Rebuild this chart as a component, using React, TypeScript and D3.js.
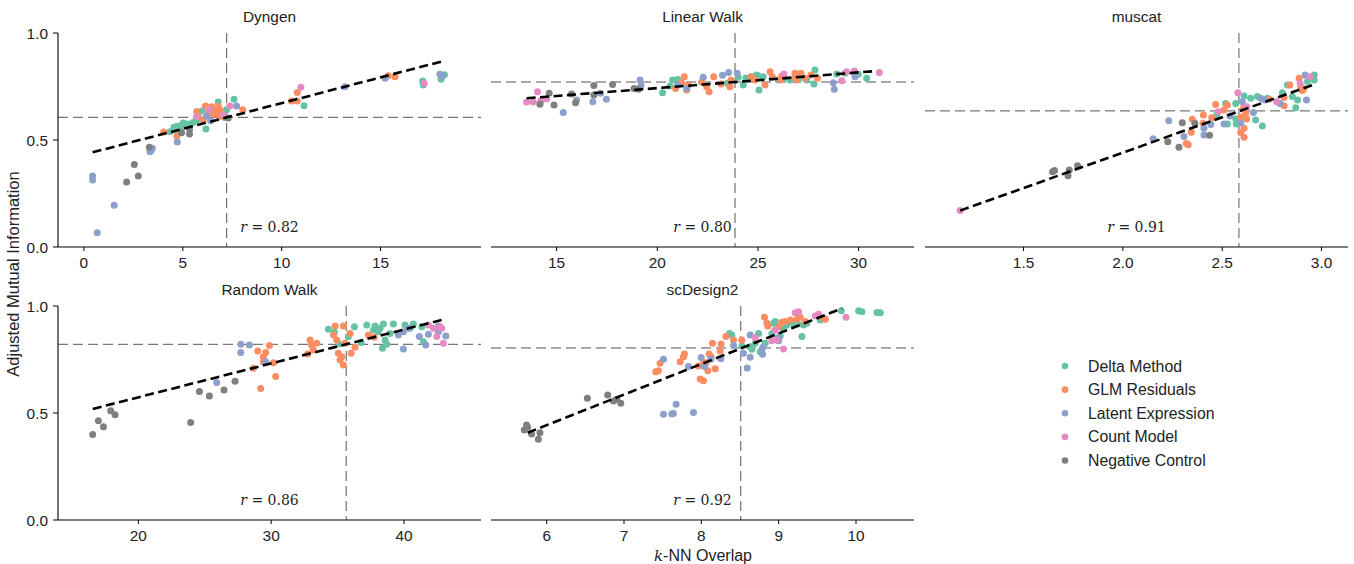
import React from "react";
import * as d3 from "d3";

const methods = ["Delta Method", "GLM Residuals", "Latent Expression", "Count Model", "Negative Control"];
const methodColors = ["#66c2a5", "#fc8d62", "#8da0cb", "#e78ac3", "#7f7f7f"];
const datasetNames = ["Dyngen", "Linear Walk", "muscat", "Random Walk", "scDesign2"];
const xDomains: [number, number][] = [[-1.31, 20.08], [11.74, 32.75], [1.004, 3.133], [13.95, 45.8], [5.28, 10.75]];
const xTicks = [[0, 5, 10, 15], [15, 20, 25, 30], [1.5, 2.0, 2.5, 3.0], [20, 30, 40], [6, 7, 8, 9, 10]];
const xTickDecimals = [0, 0, 1, 0, 0];
const yTicks = [0, 0.5, 1.0];
const medianX = [7.22, 23.86, 2.584, 35.65, 8.51];
const medianY = [0.606, 0.771, 0.636, 0.821, 0.804];
// fit line: [x0, y0, x1, y1]
const fitLines = [
  [0.44, 0.4425, 18.22, 0.87],
  [13.51, 0.695, 30.84, 0.822],
  [1.181, 0.17, 2.955, 0.757],
  [16.57, 0.519, 43.03, 0.938],
  [5.754, 0.408, 9.82, 0.989],
];
const rValues = ["0.82", "0.80", "0.91", "0.86", "0.92"];

// [x, y, method index]
const dyngenPoints = [
  [4.35, 0.539, 0], [4.55, 0.559, 0], [4.68, 0.563, 0], [4.85, 0.565, 0], [5.02, 0.579, 0], [5.19, 0.575, 0],
  [5.36, 0.575, 0], [5.53, 0.582, 0], [5.7, 0.594, 0], [6.17, 0.551, 0], [6.79, 0.678, 0], [7.59, 0.69, 0],
  [7.13, 0.605, 0], [7.22, 0.641, 0], [11.13, 0.66, 0], [17.13, 0.776, 0], [17.16, 0.757, 0], [18.06, 0.784, 0],
  [18.23, 0.805, 0], [5.95, 0.636, 0], [4.9, 0.556, 0], [5.1, 0.57, 0], [4.6, 0.548, 0],
  [4.03, 0.537, 1], [4.7, 0.519, 1], [5.7, 0.633, 1], [5.78, 0.61, 1], [6.15, 0.659, 1], [6.45, 0.655, 1],
  [6.62, 0.636, 1], [6.79, 0.659, 1], [6.71, 0.625, 1], [6.87, 0.61, 1], [8.03, 0.641, 1], [10.5, 0.682, 1],
  [10.79, 0.682, 1], [10.79, 0.722, 1], [15.39, 0.8, 1], [15.73, 0.796, 1], [6.04, 0.594, 1], [6.3, 0.63, 1],
  [6.55, 0.62, 1], [6.9, 0.64, 1],
  [0.44, 0.332, 2], [0.44, 0.313, 2], [0.67, 0.067, 2], [1.53, 0.195, 2], [3.34, 0.445, 2], [3.46, 0.461, 2],
  [4.72, 0.491, 2], [6.41, 0.59, 2], [7.72, 0.659, 2], [13.2, 0.749, 2], [15.23, 0.788, 2], [18.0, 0.807, 2],
  [18.12, 0.799, 2], [6.2, 0.612, 2], [3.4, 0.452, 2],
  [5.7, 0.61, 3], [6.32, 0.643, 3], [7.38, 0.659, 3], [7.05, 0.617, 3], [10.97, 0.746, 3], [17.21, 0.765, 3],
  [2.55, 0.385, 4], [2.75, 0.332, 4], [2.16, 0.304, 4], [3.31, 0.466, 4], [4.94, 0.534, 4], [5.34, 0.55, 4],
  [5.34, 0.528, 4], [7.3, 0.603, 4],
];

const linearWalkPoints = [
  [20.26, 0.721, 0], [20.63, 0.752, 0], [20.76, 0.78, 0], [21.01, 0.783, 0], [24.02, 0.793, 0], [24.27, 0.757, 0],
  [24.69, 0.796, 0], [24.93, 0.804, 0], [25.05, 0.734, 0], [25.26, 0.796, 0], [26.01, 0.78, 0], [26.59, 0.78, 0],
  [27.0, 0.783, 0], [27.42, 0.78, 0], [27.78, 0.762, 0], [27.83, 0.827, 0], [28.91, 0.808, 0], [29.32, 0.812, 0],
  [29.98, 0.807, 0], [30.4, 0.788, 0], [23.49, 0.765, 0], [24.4, 0.79, 0], [25.0, 0.8, 0], [26.3, 0.79, 0],
  [20.91, 0.741, 1], [21.21, 0.768, 1], [21.34, 0.796, 1], [21.46, 0.734, 1], [21.54, 0.757, 1], [22.2, 0.771, 1],
  [22.45, 0.749, 1], [22.57, 0.726, 1], [22.8, 0.796, 1], [23.16, 0.762, 1], [23.61, 0.749, 1], [23.66, 0.78, 1],
  [24.65, 0.796, 1], [24.85, 0.78, 1], [25.35, 0.757, 1], [25.6, 0.819, 1], [25.71, 0.796, 1], [26.09, 0.78, 1],
  [26.18, 0.799, 1], [26.84, 0.796, 1], [26.92, 0.78, 1], [27.14, 0.812, 1], [27.33, 0.788, 1], [27.63, 0.804, 1],
  [27.96, 0.788, 1], [26.84, 0.812, 1],
  [15.33, 0.629, 2], [15.99, 0.687, 2], [16.8, 0.679, 2], [17.18, 0.718, 2], [17.47, 0.69, 2], [19.14, 0.78, 2],
  [19.19, 0.754, 2], [21.01, 0.757, 2], [22.28, 0.793, 2], [23.24, 0.802, 2], [23.54, 0.815, 2], [23.97, 0.812, 2],
  [28.74, 0.768, 2], [28.79, 0.737, 2], [29.82, 0.796, 2], [21.47, 0.741, 2],
  [13.51, 0.678, 3], [13.84, 0.678, 3], [14.05, 0.726, 3], [14.22, 0.683, 3], [14.5, 0.692, 3], [29.4, 0.819, 3],
  [29.79, 0.822, 3], [29.16, 0.777, 3], [31.03, 0.816, 3], [26.29, 0.808, 3],
  [14.17, 0.667, 4], [14.63, 0.718, 4], [14.87, 0.664, 4], [15.74, 0.715, 4], [15.94, 0.674, 4], [16.85, 0.755, 4],
  [16.85, 0.71, 4], [17.78, 0.759, 4], [18.84, 0.741, 4], [19.06, 0.737, 4],
];

const muscatPoints = [
  [2.472, 0.617, 0], [2.517, 0.671, 0], [2.526, 0.575, 0], [2.568, 0.598, 0], [2.571, 0.575, 0], [2.61, 0.706, 0],
  [2.643, 0.695, 0], [2.668, 0.593, 0], [2.677, 0.703, 0], [2.702, 0.565, 0], [2.727, 0.695, 0], [2.803, 0.721, 0],
  [2.828, 0.757, 0], [2.853, 0.703, 0], [2.87, 0.651, 0], [2.879, 0.687, 0], [2.929, 0.773, 0], [2.963, 0.804, 0],
  [2.963, 0.78, 0], [2.568, 0.671, 0],
  [2.344, 0.536, 1], [2.319, 0.484, 1], [2.329, 0.478, 1], [2.349, 0.597, 1], [2.405, 0.617, 1], [2.403, 0.578, 1],
  [2.447, 0.604, 1], [2.467, 0.666, 1], [2.509, 0.64, 1], [2.526, 0.664, 1], [2.593, 0.608, 1], [2.606, 0.648, 1],
  [2.61, 0.555, 1], [2.61, 0.513, 1], [2.623, 0.598, 1], [2.618, 0.625, 1], [2.736, 0.691, 1], [2.811, 0.699, 1],
  [2.811, 0.66, 1], [2.84, 0.757, 1], [2.887, 0.788, 1], [2.895, 0.749, 1], [2.903, 0.731, 1], [2.911, 0.741, 1],
  [2.593, 0.534, 1],
  [2.152, 0.506, 2], [2.231, 0.59, 2], [2.307, 0.516, 2], [2.408, 0.555, 2], [2.408, 0.523, 2], [2.442, 0.573, 2],
  [2.509, 0.575, 2], [2.539, 0.612, 2], [2.593, 0.579, 2], [2.601, 0.679, 2], [2.657, 0.628, 2], [2.694, 0.695, 2],
  [2.714, 0.687, 2], [2.917, 0.804, 2], [2.924, 0.687, 2], [2.791, 0.671, 2],
  [1.181, 0.17, 3], [2.48, 0.632, 3], [2.579, 0.721, 3], [2.623, 0.655, 3], [2.774, 0.679, 3], [2.892, 0.765, 3],
  [2.942, 0.796, 3],
  [1.646, 0.352, 4], [1.656, 0.357, 4], [1.724, 0.333, 4], [1.73, 0.36, 4], [1.772, 0.38, 4], [2.226, 0.492, 4],
  [2.282, 0.466, 4], [2.299, 0.581, 4], [2.362, 0.578, 4], [2.436, 0.522, 4],
];

const randomWalkPoints = [
  [34.31, 0.891, 0], [34.76, 0.877, 0], [35.11, 0.822, 0], [35.82, 0.857, 0], [36.27, 0.903, 0], [36.77, 0.829, 0],
  [37.2, 0.911, 0], [37.7, 0.888, 0], [37.82, 0.907, 0], [38.2, 0.896, 0], [38.38, 0.802, 0], [38.58, 0.841, 0],
  [38.7, 0.821, 0], [38.95, 0.872, 0], [39.2, 0.916, 0], [40.08, 0.911, 0], [40.46, 0.896, 0], [40.71, 0.916, 0],
  [41.34, 0.903, 0], [41.46, 0.833, 0], [38.45, 0.916, 0], [38.07, 0.88, 0],
  [28.66, 0.709, 1], [28.99, 0.79, 1], [29.21, 0.614, 1], [29.41, 0.763, 1], [29.41, 0.74, 1], [29.59, 0.783, 1],
  [29.87, 0.815, 1], [30.17, 0.735, 1], [30.34, 0.671, 1], [32.75, 0.776, 1], [32.93, 0.841, 1], [33.05, 0.818, 1],
  [33.18, 0.794, 1], [33.43, 0.826, 1], [34.69, 0.864, 1], [34.81, 0.907, 1], [34.94, 0.841, 1], [35.06, 0.779, 1],
  [35.19, 0.748, 1], [35.44, 0.724, 1], [35.44, 0.907, 1], [35.56, 0.826, 1], [35.94, 0.872, 1], [36.02, 0.779, 1],
  [36.32, 0.807, 1], [37.32, 0.864, 1], [37.75, 0.854, 1], [35.31, 0.763, 1],
  [27.71, 0.821, 2], [28.36, 0.818, 2], [27.71, 0.783, 2], [25.9, 0.643, 2], [29.59, 0.74, 2], [39.58, 0.864, 2],
  [39.96, 0.799, 2], [40.33, 0.896, 2], [41.16, 0.857, 2], [41.64, 0.818, 2], [41.84, 0.868, 2], [42.59, 0.907, 2],
  [42.59, 0.88, 2], [43.15, 0.86, 2], [39.96, 0.88, 2],
  [41.84, 0.911, 3], [42.22, 0.896, 3], [42.47, 0.857, 3], [42.84, 0.896, 3], [42.97, 0.826, 3], [42.72, 0.903, 3],
  [16.56, 0.4, 4], [16.99, 0.464, 4], [17.37, 0.436, 4], [17.92, 0.511, 4], [18.25, 0.492, 4], [23.94, 0.456, 4],
  [24.6, 0.6, 4], [25.35, 0.579, 4], [26.45, 0.607, 4], [27.28, 0.648, 4],
];

const scDesign2Points = [
  [8.364, 0.872, 0], [8.394, 0.864, 0], [8.524, 0.813, 0], [8.632, 0.81, 0], [8.653, 0.798, 0], [8.697, 0.826, 0],
  [8.74, 0.872, 0], [8.761, 0.786, 0], [8.826, 0.826, 0], [8.912, 0.872, 0], [8.934, 0.919, 0], [8.955, 0.927, 0],
  [9.02, 0.86, 0], [9.063, 0.891, 0], [9.106, 0.911, 0], [9.193, 0.916, 0], [9.249, 0.916, 0], [9.301, 0.857, 0],
  [9.322, 0.911, 0], [9.365, 0.919, 0], [9.538, 0.935, 0], [9.81, 0.978, 0], [10.034, 0.978, 0], [10.077, 0.973, 0],
  [10.271, 0.97, 0], [10.314, 0.968, 0],
  [7.411, 0.693, 1], [7.445, 0.698, 1], [7.467, 0.732, 1], [7.726, 0.74, 1], [7.769, 0.763, 1], [7.782, 0.776, 1],
  [7.963, 0.72, 1], [7.985, 0.659, 1], [8.028, 0.651, 1], [8.062, 0.735, 1], [8.084, 0.698, 1], [8.101, 0.776, 1],
  [8.127, 0.763, 1], [8.179, 0.707, 1], [8.144, 0.826, 1], [8.243, 0.79, 1], [8.256, 0.822, 1], [8.317, 0.857, 1],
  [8.416, 0.841, 1], [8.524, 0.841, 1], [8.817, 0.947, 1], [8.847, 0.919, 1], [8.86, 0.907, 1], [9.0, 0.903, 1],
  [9.042, 0.924, 1], [9.085, 0.927, 1], [9.15, 0.935, 1], [9.236, 0.938, 1], [9.279, 0.947, 1], [9.344, 0.927, 1],
  [9.581, 0.942, 1], [9.603, 0.938, 1], [8.028, 0.735, 1],
  [7.51, 0.751, 2], [7.51, 0.494, 2], [7.618, 0.495, 2], [7.639, 0.498, 2], [7.674, 0.541, 2], [7.898, 0.502, 2],
  [7.833, 0.717, 2], [7.997, 0.759, 2], [8.04, 0.717, 2], [8.123, 0.751, 2], [8.252, 0.754, 2], [8.416, 0.816, 2],
  [8.545, 0.779, 2], [8.593, 0.71, 2], [8.632, 0.864, 2], [8.632, 0.76, 2], [8.791, 0.774, 2], [8.796, 0.807, 2],
  [8.99, 0.852, 2], [9.0, 0.838, 2], [8.78, 0.794, 2],
  [8.697, 0.852, 3], [8.912, 0.838, 3], [8.955, 0.888, 3], [9.063, 0.799, 3], [9.214, 0.968, 3], [9.257, 0.973, 3],
  [9.473, 0.953, 3], [9.516, 0.961, 3], [9.87, 0.947, 3], [8.977, 0.841, 3],
  [5.71, 0.421, 4], [5.74, 0.444, 4], [5.754, 0.433, 4], [5.805, 0.402, 4], [5.892, 0.377, 4], [5.913, 0.408, 4],
  [6.526, 0.569, 4], [6.789, 0.584, 4], [6.863, 0.556, 4], [6.906, 0.564, 4], [6.958, 0.545, 4],
];

const panelPoints = [dyngenPoints, linearWalkPoints, muscatPoints, randomWalkPoints, scDesign2Points];

const W = 1354;
const H = 564;
const panelLeft = [58, 491, 925, 58, 491];
const panelTop = [33, 33, 33, 306, 306];
const PW = 423;
const PH = 214;
const SANS = "'Liberation Sans', Arial, Helvetica, sans-serif";
const SERIF = "'DejaVu Serif', 'Liberation Serif', serif";
const FS = 15.4;

function Panel({ i }: { i: number }) {
  const left = panelLeft[i];
  const top = panelTop[i];
  const x = d3.scaleLinear().domain(xDomains[i]).range([left, left + PW]);
  const y = d3.scaleLinear().domain([0, 1]).range([top + PH, top]);
  const pts = panelPoints[i];
  const fl = fitLines[i];
  const showY = i === 0 || i === 3;
  const fmt = d3.format(`.${xTickDecimals[i]}f`);
  const cx = left + PW / 2;
  return (
    <g>
      <line x1={left} x2={left + PW} y1={y(medianY[i])} y2={y(medianY[i])} stroke="#555" strokeWidth={1} strokeDasharray="10,5" />
      <line x1={x(medianX[i])} x2={x(medianX[i])} y1={top} y2={top + PH} stroke="#555" strokeWidth={1} strokeDasharray="10,5" />
      {pts.map((p, k) => (
        <circle key={k} cx={x(p[0])} cy={y(p[1])} r={3.5} fill={methodColors[p[2]]} />
      ))}
      <line x1={x(fl[0])} y1={y(fl[1])} x2={x(fl[2])} y2={y(fl[3])} stroke="#000" strokeWidth={2.6} strokeDasharray="9,4.5" />
      <line x1={left} x2={left + PW} y1={top + PH} y2={top + PH} stroke="#000" strokeWidth={1.1} />
      {xTicks[i].map((t) => (
        <g key={t}>
          <line x1={x(t)} x2={x(t)} y1={top + PH} y2={top + PH + 4} stroke="#000" strokeWidth={1} />
          <text x={x(t)} y={top + PH + 21} textAnchor="middle" fontFamily={SANS} fontSize={FS} fill="#222">{fmt(t)}</text>
        </g>
      ))}
      {showY && (
        <g>
          <line x1={left} x2={left} y1={top} y2={top + PH} stroke="#000" strokeWidth={1.1} />
          {yTicks.map((t) => (
            <g key={t}>
              <line x1={left - 5} x2={left} y1={y(t)} y2={y(t)} stroke="#000" strokeWidth={1} />
              <text x={left - 10} y={y(t) + 5.5} textAnchor="end" fontFamily={SANS} fontSize={FS} fill="#222">{t.toFixed(1)}</text>
            </g>
          ))}
        </g>
      )}
      <text x={cx} y={top - 11} textAnchor="middle" fontFamily={SANS} fontSize={FS} fill="#222">{datasetNames[i]}</text>
      <text x={cx} y={top + PH - 15} textAnchor="middle" fontFamily={SERIF} fontSize={14} fill="#222">
        <tspan fontStyle="italic">r</tspan> = {rValues[i]}
      </text>
    </g>
  );
}

export default function App() {
  const legendY = d3.scaleLinear().domain([0, 4]).range([366, 460.5]);
  return (
    <svg width={W} height={H} style={{ position: "absolute", left: 0, top: 0, background: "#fff" }}>
      <rect width={W} height={H} fill="#fff" />
      {datasetNames.map((_, i) => (
        <Panel key={i} i={i} />
      ))}
      <text transform={`translate(19,274) rotate(-90)`} textAnchor="middle" fontFamily={SANS} fontSize={16.5} fill="#222">
        Adjusted Mutual Information
      </text>
      <text x={703} y={561} textAnchor="middle" fontFamily={SANS} fontSize={16} fill="#222">
        <tspan fontFamily={SERIF} fontStyle="italic" fontSize={15}>k</tspan>-NN Overlap
      </text>
      {methods.map((m, k) => (
        <g key={m}>
          <circle cx={1065} cy={legendY(k)} r={3.3} fill={methodColors[k]} />
          <text x={1088} y={legendY(k) + 5.5} fontFamily={SANS} fontSize={15.8} fill="#222">{m}</text>
        </g>
      ))}
    </svg>
  );
}
